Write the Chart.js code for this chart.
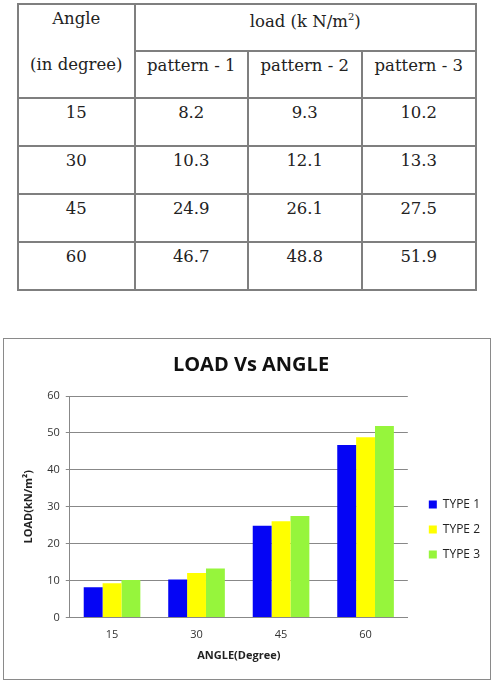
<!DOCTYPE html>
<html>
<head>
<meta charset="utf-8">
<script src="https://cdn.jsdelivr.net/npm/chart.js@4/dist/chart.umd.min.js"></script>
<style>
  body { margin: 0; background: #fff; width: 495px; height: 691px; position: relative; }
  table.data {
    position: absolute; left: 17px; top: 3px; width: 460px;
    border-collapse: collapse; font-family: "DejaVu Serif", serif; font-size: 16.5px; color: #222;
    line-height: 19px;
  }
  table.data td { border: 2px solid #7f7f7f; text-align: center; vertical-align: top; padding: 4px 0 0 0; height: 42px; }
  .chartBox {
    position: absolute; left: 3px; top: 338px; width: 488px; height: 342px;
    box-sizing: border-box; border: 1px solid #8a8a8a;
  }
</style>
</head>
<body>
<table class="data" id="tbl"></table>
<div class="chartBox"><canvas id="loadChart"></canvas></div>
<script>
const angles = ["15", "30", "45", "60"];
const seriesNames = ["TYPE 1", "TYPE 2", "TYPE 3"];
const patternNames = ["pattern - 1", "pattern - 2", "pattern - 3"];
const type1 = [8.2, 10.3, 24.9, 46.7];
const type2 = [9.3, 12.1, 26.1, 48.8];
const type3 = [10.2, 13.3, 27.5, 51.9];
const yTicks = [0, 10, 20, 30, 40, 50, 60];

// table
const tbl = document.getElementById("tbl");
let html = '<colgroup><col style="width:117px"><col style="width:114px"><col style="width:114px"><col style="width:115px"></colgroup>';
html += '<tr><td rowspan="2">Angle<div style="margin-top:27px">(in degree)</div></td>' +
        '<td colspan="3" style="height:43px;padding-top:2px">load (k N/m<sup style="font-size:10px">2</sup>)</td></tr>';
html += '<tr>' + patternNames.map(p => '<td style="height:41px">' + p + '</td>').join('') + '</tr>';
angles.forEach((a, i) => {
  html += '<tr><td style="height:42px">' + a + '</td><td>' + type1[i] + '</td><td>' + type2[i] + '</td><td>' + type3[i] + '</td></tr>';
});
tbl.innerHTML = html;

// shift legend a bit right and down, like the original
const legendShift = {
  id: "legendShift",
  afterInit(chart) {
    const lg = chart.legend;
    const draw = lg.draw;
    lg.draw = function () {
      this.ctx.save();
      this.ctx.translate(8, 29);
      draw.call(this);
      this.ctx.restore();
    };
  }
};

const ctx = document.getElementById("loadChart").getContext("2d");
new Chart(ctx, {
  type: "bar",
  data: {
    labels: angles,
    datasets: [
      { label: seriesNames[0], data: type1, backgroundColor: "#0505f5" },
      { label: seriesNames[1], data: type2, backgroundColor: "#ffff00" },
      { label: seriesNames[2], data: type3, backgroundColor: "#96f53c" }
    ]
  },
  options: {
    responsive: true,
    maintainAspectRatio: false,
    animation: false,
    categoryPercentage: 0.67,
    barPercentage: 1.0,
    layout: { padding: { left: 16, right: 8, top: 0, bottom: 17 } },
    scales: {
      x: {
        grid: { display: false, drawTicks: false },
        border: { color: "#888", width: 1 },
        ticks: { color: "#333", font: { family: "Open Sans", size: 11 }, padding: 11 },
        title: { display: true, text: "ANGLE(Degree)", color: "#222", font: { family: "Open Sans", size: 11, weight: "bold" }, padding: { top: -4, bottom: 0 } }
      },
      y: {
        min: 0, max: 60,
        afterBuildTicks: axis => { axis.ticks = yTicks.map(v => ({ value: v })); },
        grid: { color: "#888", tickLength: 4 },
        border: { color: "#888", width: 1 },
        ticks: { color: "#333", font: { family: "Open Sans", size: 11 }, padding: 6 },
        title: {
          display: true, text: "LOAD(kN/m²)", color: "#222",
          font: { family: "Open Sans", size: 11, weight: "bold" }, padding: { top: 2, bottom: 6 }
        }
      }
    },
    plugins: {
      title: {
        display: true, text: "LOAD Vs ANGLE", color: "#111",
        font: { family: "Open Sans", size: 20, weight: "bold" },
        padding: { top: 14, bottom: 19 }
      },
      legend: {
        position: "right",
        labels: { boxWidth: 8, boxHeight: 8, color: "#222", font: { family: "Open Sans", size: 12 }, padding: 13 }
      },
      tooltip: { enabled: false }
    }
  },
  plugins: [legendShift]
});
</script>
</body>
</html>
